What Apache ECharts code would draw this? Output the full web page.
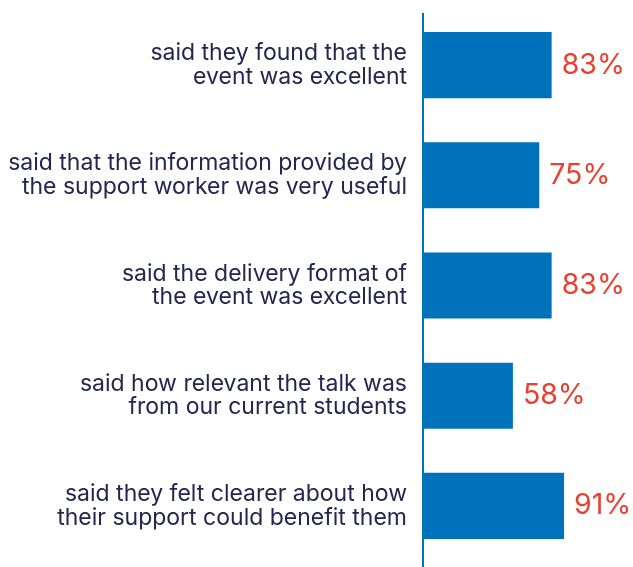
<!DOCTYPE html>
<html>
<head>
<meta charset="utf-8">
<script src="https://cdn.jsdelivr.net/npm/echarts@6/dist/echarts.min.js"></script>
<style>
  html, body { margin: 0; padding: 0; background: #ffffff; }
  #chart { width: 633px; height: 567px; }
</style>
</head>
<body>
<div id="chart"></div>
<script>
// Survey statements (top to bottom) and the share of respondents agreeing
const categories = [
  'said they found that the\nevent was excellent',
  'said that the information provided by\nthe support worker was very useful',
  'said the delivery format of\nthe event was excellent',
  'said how relevant the talk was\nfrom our current students',
  'said they felt clearer about how\ntheir support could benefit them'
];
const percentages = [83, 75, 83, 58, 91];

const BLUE = '#0072bc';
const RED = '#e8412f';
const NAVY = '#23264f';

const chart = echarts.init(document.getElementById('chart'));

const gridLeft = 423;
const gridTop = 10;
const gridBottom = 6;

chart.setOption({
  animation: false,
  grid: { left: gridLeft, right: 55, top: gridTop, bottom: gridBottom, containLabel: false },
  xAxis: {
    type: 'value',
    min: 0,
    max: 100,
    show: false
  },
  yAxis: {
    type: 'category',
    inverse: true,
    data: categories,
    axisLine: { show: false },
    axisTick: { show: false },
    axisLabel: {
      margin: 16,
      fontFamily: 'Inter',
      fontSize: 23,
      lineHeight: 23.5,
      color: NAVY,
      align: 'right'
    }
  },
  series: [{
    type: 'bar',
    data: percentages,
    barCategoryGap: '40%',
    itemStyle: { color: BLUE },
    label: {
      show: true,
      position: 'right',
      distance: 10,
      formatter: p => p.value + '%',
      fontFamily: 'Inter',
      fontSize: 28.5,
      color: RED
    }
  }],
  graphic: [{
    type: 'line',
    shape: { x1: gridLeft, y1: 13, x2: gridLeft, y2: 567 },
    style: { stroke: BLUE, lineWidth: 2 },
    z: 10
  }]
});
</script>
</body>
</html>
